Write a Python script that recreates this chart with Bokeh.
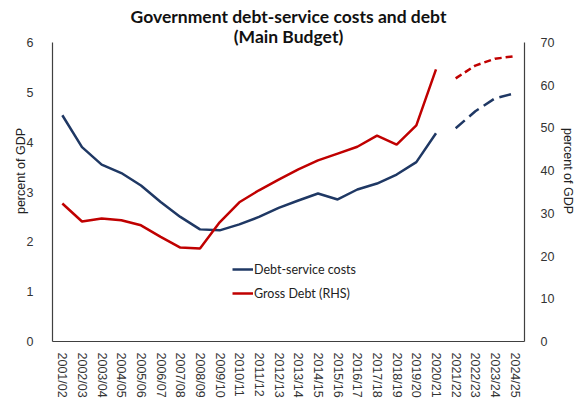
from bokeh.plotting import figure
from bokeh.models import Range1d, LinearAxis, FactorRange, Label, Legend, LegendItem, FixedTicker
from bokeh.embed import file_html
from bokeh.resources import INLINE

# ---------------- data ----------------
years = ["2001/02", "2002/03", "2003/04", "2004/05", "2005/06", "2006/07", "2007/08",
         "2008/09", "2009/10", "2010/11", "2011/12", "2012/13", "2013/14", "2014/15",
         "2015/16", "2016/17", "2017/18", "2018/19", "2019/20", "2020/21", "2021/22",
         "2022/23", "2023/24", "2024/25"]
actual_years = years[:20]
forecast_years = years[20:]

debt_service = [4.54, 3.90, 3.55, 3.38, 3.13, 2.80, 2.50, 2.25, 2.23, 2.35,
                2.50, 2.68, 2.83, 2.97, 2.85, 3.05, 3.17, 3.35, 3.60, 4.18]
debt_service_fc = [4.28, 4.62, 4.88, 4.98]

gross_debt = [32.3, 28.1, 28.8, 28.4, 27.2, 24.5, 22.0, 21.8, 27.9, 32.6,
              35.4, 37.9, 40.3, 42.4, 44.0, 45.6, 48.2, 46.1, 50.6, 63.7]
gross_debt_fc = [61.6, 64.6, 66.2, 66.8]

left_ticks = [0, 1, 2, 3, 4, 5, 6]
right_ticks = [0, 10, 20, 30, 40, 50, 60, 70]

title_lines = ["Government debt-service costs and debt", "(Main Budget)"]
axis_title = "percent of GDP"

# ---------------- layout ----------------
W, H = 578, 402
FRAME_BOTTOM = 61
FRAME_TOP_PX = 42      # screen y of the top tick (6 / 70)
frame_h = H - FRAME_BOTTOM
scale = frame_h / (frame_h - FRAME_TOP_PX)
left_max, right_max = 6, 70

BLUE = "#1F3864"
RED = "#C00000"
AXIS = "#404040"
FONT = "Lato"
TICK_FONT = "Liberation Sans"

p = figure(width=W, height=H,
           x_range=FactorRange(*years, range_padding=0),
           y_range=Range1d(0, left_max * scale),
           min_border_left=52, min_border_right=50,
           min_border_top=0, min_border_bottom=FRAME_BOTTOM,
           output_backend="svg", toolbar_location=None,
           outline_line_color=None, background_fill_color="white")
p.xgrid.grid_line_color = None
p.ygrid.grid_line_color = None

p.extra_y_ranges = {"rhs": Range1d(0, right_max * scale)}

# left axis
ya = p.yaxis[0]
ya.bounds = (0, left_max)
ya.ticker = FixedTicker(ticks=left_ticks)
ya.major_tick_line_color = None
ya.minor_tick_line_color = None
ya.axis_line_color = AXIS
ya.axis_line_width = 1.2
ya.major_label_text_font = TICK_FONT
ya.major_label_text_font_size = "12.5px"
ya.major_label_text_color = "#333333"
ya.major_label_standoff = 13
ya.axis_label = axis_title
ya.axis_label_text_font = TICK_FONT
ya.axis_label_text_font_style = "normal"
ya.axis_label_text_font_size = "12.5px"
ya.axis_label_text_color = "#222222"
ya.axis_label_standoff = -4

# right axis
ra = LinearAxis(y_range_name="rhs", bounds=(0, right_max),
                ticker=FixedTicker(ticks=right_ticks))
ra.major_tick_line_color = None
ra.minor_tick_line_color = None
ra.axis_line_color = AXIS
ra.axis_line_width = 1.2
ra.major_label_text_font = TICK_FONT
ra.major_label_text_font_size = "12.5px"
ra.major_label_text_color = "#333333"
ra.major_label_standoff = 10
ra.axis_label = axis_title
ra.axis_label_text_font = TICK_FONT
ra.axis_label_text_font_style = "normal"
ra.axis_label_text_font_size = "12.5px"
ra.axis_label_text_color = "#222222"
ra.axis_label_standoff = 4
p.add_layout(ra, "right")

# x axis
xa = p.xaxis[0]
xa.major_tick_line_color = None
xa.minor_tick_line_color = None
xa.axis_line_color = AXIS
xa.axis_line_width = 1.2
xa.major_label_orientation = "vertical"
xa.major_label_text_font = TICK_FONT
xa.major_label_text_font_size = "12.5px"
xa.major_label_text_color = "#333333"
xa.major_label_standoff = 5

# lines
r1 = p.line(actual_years, debt_service, line_color=BLUE, line_width=2.5)
p.line(forecast_years, debt_service_fc, line_color=BLUE, line_width=2.5, line_dash="12 6")
r2 = p.line(actual_years, gross_debt, line_color=RED, line_width=2.5, y_range_name="rhs")
p.line(forecast_years, gross_debt_fc, line_color=RED, line_width=2.5, line_dash="7 4",
       y_range_name="rhs")

# legend
legend = Legend(items=[LegendItem(label="Debt-service costs", renderers=[r1]),
                       LegendItem(label="Gross Debt (RHS)", renderers=[r2])],
                location=(180, 38), border_line_color=None, background_fill_alpha=0,
                padding=0, margin=0, spacing=4, glyph_width=21, glyph_height=20,
                label_standoff=1, label_text_font=FONT, label_text_font_size="12.5px",
                label_text_color="#222222")
p.add_layout(legend)

# title (two lines, centred over the frame)
px_per_unit = frame_h / (left_max * scale)
for i, t in enumerate(title_lines):
    screen_y = 16 + 20 * i
    p.add_layout(Label(x=len(years) / 2, y=(frame_h - screen_y) / px_per_unit, text=t,
                       text_align="center", text_baseline="middle",
                       text_font=FONT, text_font_style="bold", text_font_size="17.5px",
                       text_color="#111111"))

open("out.html", "w").write(file_html(p, INLINE))
